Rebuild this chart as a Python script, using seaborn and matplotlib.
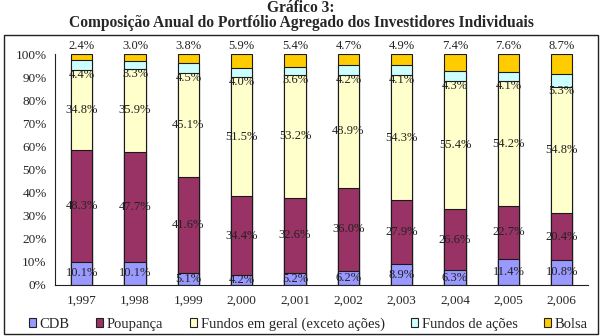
import pandas as pd
import matplotlib.pyplot as plt
import seaborn as sns
from matplotlib.patches import Patch, Rectangle

# Data (% of portfolio)
years = ['1,997', '1,998', '1,999', '2,000', '2,001', '2,002', '2,003', '2,004', '2,005', '2,006']
cdb = [10.1, 10.1, 5.1, 4.2, 5.2, 6.2, 8.9, 6.3, 11.4, 10.8]
poupanca = [48.3, 47.7, 41.6, 34.4, 32.6, 36.0, 27.9, 26.6, 22.7, 20.4]
fundos_geral = [34.8, 35.9, 45.1, 51.5, 53.2, 48.9, 54.3, 55.4, 54.2, 54.8]
fundos_acoes = [4.4, 3.3, 4.5, 4.0, 3.6, 4.2, 4.1, 4.3, 4.1, 5.3]
bolsa = [2.4, 3.0, 3.8, 5.9, 5.4, 4.7, 4.9, 7.4, 7.6, 8.7]

series = ['CDB', 'Poupança', 'Fundos em geral (exceto ações)', 'Fundos de ações', 'Bolsa']
colors = ['#9999FF', '#993366', '#FFFFCC', '#CCFFFF', '#FFCC00']

df = pd.DataFrame({'ano': years, 'CDB': cdb, 'Poupança': poupanca,
                   'Fundos em geral (exceto ações)': fundos_geral,
                   'Fundos de ações': fundos_acoes, 'Bolsa': bolsa})
cum = df[series].cumsum(axis=1)
cum['ano'] = df['ano']

sns.set_style('white')
plt.rcParams['font.family'] = ['Liberation Serif', 'DejaVu Serif']

fig = plt.figure(figsize=(6.02, 3.36), dpi=100)
ax = fig.add_axes([0.0914, 0.152, 0.886, 0.686])

# stack by drawing cumulative totals from the top down
for name, col in reversed(list(zip(series, colors))):
    sns.barplot(data=cum, x='ano', y=name, color=col, saturation=1, width=0.4,
                edgecolor='#1a1a1a', linewidth=0.8, ax=ax)

# value labels
for i in range(len(years)):
    base = 0
    for j, name in enumerate(series):
        v = df[name][i]
        if j < 3:
            y = base + v / 2
        elif j == 3:
            y = base - 2.0
        else:
            y = 103.5
        ax.text(i, y, f'{v:.1f}%', ha='center', va='center', fontsize=9,
                color='#222222', clip_on=False)
        base += v

ax.set_xlim(-0.5, len(years) - 0.5)
ax.set_ylim(0, 100)
ax.set_yticks(range(0, 101, 10))
ax.set_yticklabels([f'{t}%' for t in range(0, 101, 10)], fontsize=9.5)
ax.set_xticks(range(len(years)))
ax.set_xticklabels(years, fontsize=9.5)
ax.set_xticks([k - 0.5 for k in range(len(years) + 1)], minor=True)
ax.tick_params(axis='x', which='major', length=0, pad=7)
ax.tick_params(axis='x', which='minor', length=4, direction='out', width=0.8, color='#222222')
ax.tick_params(axis='y', length=4, direction='out', width=0.8, color='#222222', pad=2)
ax.set_xlabel('')
ax.set_ylabel('')
sns.despine(ax=ax)
for s in ['left', 'bottom']:
    ax.spines[s].set_color('#222222')
    ax.spines[s].set_linewidth(0.8)

fig.text(0.5, 0.977, 'Gráfico 3:', ha='center', va='center', fontsize=11.2, fontweight='bold')
fig.text(0.5, 0.932, 'Composição Anual do Portfólio Agregado dos Investidores Individuais',
         ha='center', va='center', fontsize=11.2, fontweight='bold')

fig.patches.append(Rectangle((0.006, 0.006), 0.988, 0.89, transform=fig.transFigure,
                             fill=False, edgecolor='#222222', linewidth=1.0))

handles = [Patch(facecolor=c, edgecolor='#222222', linewidth=0.8) for c in colors]
fig.legend(handles, series, loc='center', bbox_to_anchor=(0.512, 0.035), ncol=5,
           frameon=False, fontsize=10.5, handlelength=0.5, handleheight=0.5,
           handletextpad=0.25, columnspacing=1.8, borderpad=0)

fig.savefig('out.png', dpi=100)
